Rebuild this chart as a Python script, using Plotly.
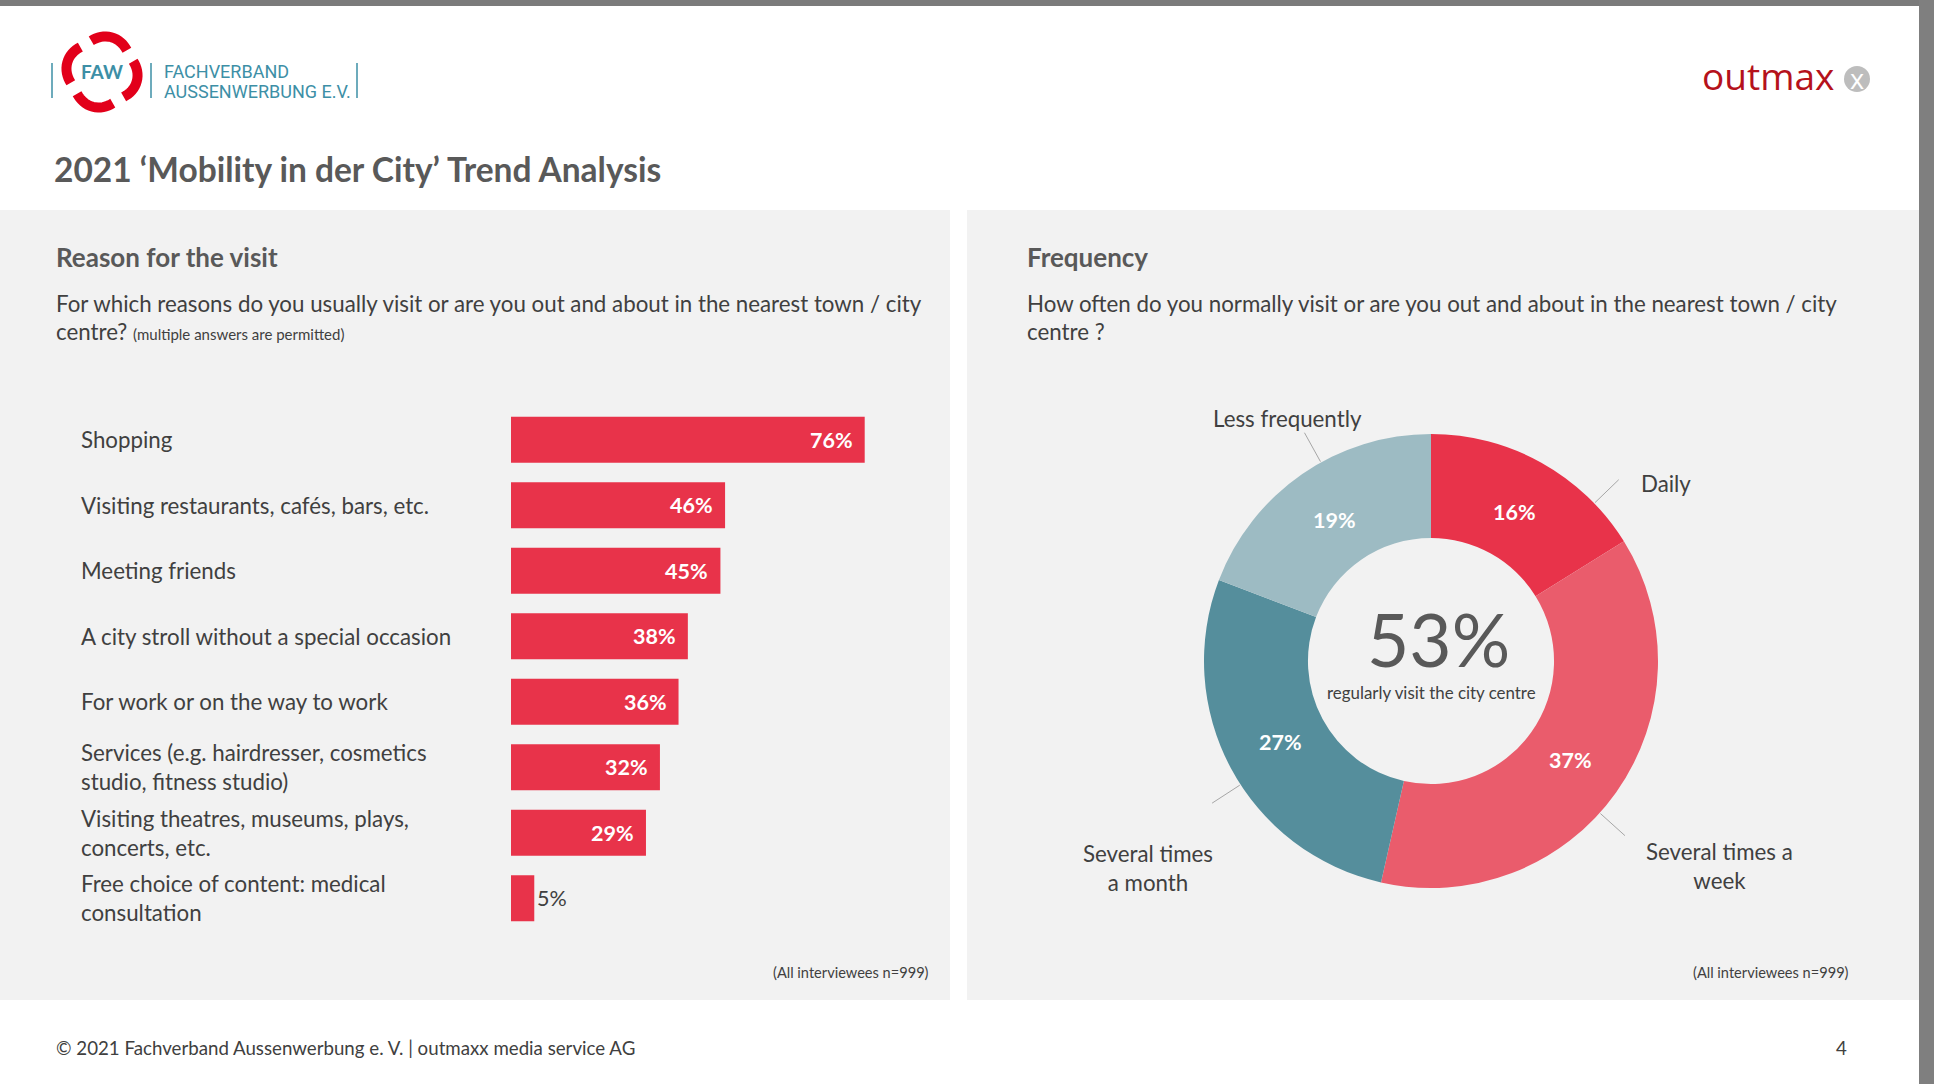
import math
import plotly.graph_objects as go

# --- data -------------------------------------------------------------
reasons = [
    "Shopping",
    "Visiting restaurants, cafés, bars, etc.",
    "Meeting friends",
    "A city stroll without a special occasion",
    "For work or on the way to work",
    "Services (e.g. hairdresser, cosmetics<br>studio, fitness studio)",
    "Visiting theatres, museums, plays,<br>concerts, etc.",
    "Free choice of content: medical<br>consultation",
]
reason_pct = [76, 46, 45, 38, 36, 32, 29, 5]

freq_labels = ["Daily", "Several times a week", "Several times a month", "Less frequently"]
freq_pct = [16, 37, 27, 19]
freq_names = ["Daily", "Several times a<br>week", "Several times<br>a month", "Less frequently"]

# --- styling ----------------------------------------------------------
W, H = 1934, 1084
FONT = "Lato"
DARK = "#404040"
HEAD = "#595959"
PANEL = "#f2f2f2"
RED = "#e8334a"
TEAL = "#3d8fa6"
freq_colors = ["#e8334a", "#ea5c6c", "#558e9c", "#9dbbc3"]


def px(x):
    return x / W


def py(y):
    return 1 - y / H


fig = go.Figure()

# bar chart (left panel)
fig.add_trace(go.Bar(
    x=reason_pct, y=reasons, orientation="h",
    marker=dict(color=RED, line=dict(width=0)),
    width=0.7, hoverinfo="skip",
))

# donut (right panel)
cx, cy, R = 1431, 661, 227
HOLE = 0.542
fig.add_trace(go.Pie(
    values=freq_pct, labels=freq_labels,
    sort=False, direction="clockwise", rotation=0,
    hole=HOLE,
    marker=dict(colors=freq_colors, line=dict(width=0)),
    textinfo="none",
    domain=dict(x=[px(cx - R), px(cx + R)], y=[py(cy + R), py(cy - R)]),
    showlegend=False, hoverinfo="skip",
))

shapes = [
    # background pieces
    dict(type="rect", xref="paper", yref="paper", x0=0, x1=px(950), y0=py(1000), y1=py(210),
         fillcolor=PANEL, line_width=0, layer="below"),
    dict(type="rect", xref="paper", yref="paper", x0=px(967), x1=px(1919), y0=py(1000), y1=py(210),
         fillcolor=PANEL, line_width=0, layer="below"),
    dict(type="rect", xref="paper", yref="paper", x0=0, x1=1, y0=py(6), y1=1,
         fillcolor="#7b7b7b", line_width=0, layer="below"),
    dict(type="rect", xref="paper", yref="paper", x0=px(1919), x1=1, y0=0, y1=1,
         fillcolor="#7f7f7f", line_width=0, layer="below"),
    # FAW logo dividers
    dict(type="line", xref="paper", yref="paper", x0=px(52), x1=px(52), y0=py(98), y1=py(63),
         line=dict(color=TEAL, width=1.5)),
    dict(type="line", xref="paper", yref="paper", x0=px(151), x1=px(151), y0=py(98), y1=py(63),
         line=dict(color=TEAL, width=1.5)),
    dict(type="line", xref="paper", yref="paper", x0=px(357), x1=px(357), y0=py(98), y1=py(63),
         line=dict(color=TEAL, width=1.5)),
    # outmaxx logo circle
    dict(type="circle", xref="paper", yref="paper", x0=px(1844), x1=px(1870), y0=py(92), y1=py(66),
         fillcolor="#bdbdbd", line_width=0),
]

# FAW pinwheel: four curved blades
lx0, ly0, lr = 102, 72, 33
for c in [15, 105, 195, 285]:
    pts = []
    for k in range(17):
        a = math.radians(c - 34 + 68 * k / 16)
        r = lr + 3 * math.sin(math.pi * k / 16)
        pts.append((px(lx0 + r * math.sin(a)), py(ly0 - r * math.cos(a))))
    path = "M " + " L ".join(f"{x:.5f},{y:.5f}" for x, y in pts)
    shapes.append(dict(type="path", xref="paper", yref="paper", path=path,
                       line=dict(color="#e2001a", width=10)))

# leader lines of the donut labels
leader_angles = [46, 132, 237, 331]
for a in leader_angles:
    t = math.radians(a)
    shapes.append(dict(
        type="line", xref="paper", yref="paper",
        x0=px(cx + (R + 1) * math.sin(t)), y0=py(cy - (R + 1) * math.cos(t)),
        x1=px(cx + (R + 34) * math.sin(t)), y1=py(cy - (R + 34) * math.cos(t)),
        line=dict(color="#a6a6a6", width=1),
    ))

ann = []


def text(x, y, s, size, color=DARK, bold=False, xanchor="left", yanchor="middle", align="left", family=FONT):
    ann.append(dict(
        x=px(x), y=py(y), xref="paper", yref="paper", text=s, showarrow=False,
        xanchor=xanchor, yanchor=yanchor, align=align,
        font=dict(family=family, size=size, color=color, weight="bold" if bold else "normal"),
    ))


# header
text(52, 169, "2021 ‘Mobility in der City’ Trend Analysis", 33.5, HEAD, bold=True)
text(102, 71, "FAW", 19, TEAL, bold=True, xanchor="center")
text(162, 72, "FACHVERBAND", 18, TEAL, family="Roboto")
text(162, 91, "AUSSENWERBUNG E.V.", 18, TEAL, family="Roboto")
text(1700, 76, "outmax", 37, "#b5121b", family="Open Sans")
text(1857, 78, "x", 27, "white", xanchor="center", family="Open Sans")

# left panel texts
text(54, 257, "Reason for the visit", 26, HEAD, bold=True)
text(54, 303, "For which reasons do you usually visit or are you out and about in the nearest town / city", 22.3)
text(54, 331, "centre? <span style='font-size:15px'>(multiple answers are permitted)</span>", 22.3)
text(931, 972, "(All interviewees n=999)", 14.6, xanchor="right")

# right panel texts
text(1025, 257, "Frequency", 26, HEAD, bold=True)
text(1025, 303, "How often do you normally visit or are you out and about in the nearest town / city", 22.3)
text(1025, 331, "centre ?", 22.3)
text(1851, 972, "(All interviewees n=999)", 14.6, xanchor="right")

# footer
text(54, 1048, "© 2021 Fachverband Aussenwerbung e. V. | outmaxx media service AG", 18.7)
text(1849, 1048, "4", 18.7, xanchor="right")

# bar category labels and value labels
for cat, v in zip(reasons, reason_pct):
    ann.append(dict(
        x=px(79), y=cat, xref="paper", yref="y", text=cat, showarrow=False,
        xanchor="left", yanchor="middle", align="left",
        font=dict(family=FONT, size=22.3, color=DARK),
    ))
    inside = v >= 10
    ann.append(dict(
        x=v, y=cat, xref="x", yref="y", text=f"{v}%", showarrow=False,
        xanchor="right" if inside else "left", xshift=-10 if inside else 1,
        font=dict(family=FONT, size=21.5, color="white" if inside else DARK,
                  weight="bold" if inside else "normal"),
    ))

# slice value labels at the middle of each ring segment
total = sum(freq_pct)
start = 0
r_mid = R * (1 + HOLE) / 2 - 4
for v in freq_pct:
    mid = math.radians((start + v / 2) / total * 360)
    text(cx + r_mid * math.sin(mid), cy - r_mid * math.cos(mid), f"{v}%", 21.5, "white",
         bold=True, xanchor="center")
    start += v

# donut outside labels and centre
label_pos = [(1639, 484, "left"), (1719, 866, "center"), (1148, 868, "center"), (1287, 418, "center")]
for name, (lx, ly, anc) in zip(freq_names, label_pos):
    text(lx, ly, name, 22.3, DARK, xanchor=anc, align="center")

regular = freq_pct[0] + freq_pct[1]
text(cx + 7, 685, f"{regular}%", 73, HEAD, xanchor="center", yanchor="bottom")
text(cx, 680, "regularly visit the city centre", 16.9, DARK, xanchor="center", yanchor="top")

fig.update_layout(
    width=W, height=H,
    margin=dict(l=0, r=0, t=0, b=0),
    paper_bgcolor="white", plot_bgcolor="rgba(0,0,0,0)",
    showlegend=False,
    xaxis=dict(domain=[px(511), px(931)], range=[0, 420 / 4.654], visible=False, fixedrange=True),
    yaxis=dict(domain=[py(931), py(407)], range=[len(reasons) - 0.5, -0.5], visible=False,
               type="category", fixedrange=True),
    shapes=shapes, annotations=ann,
    font=dict(family=FONT, color=DARK),
)

fig.write_html("out.html", config={"displayModeBar": False},
               post_script="document.body.style.margin='0';")
